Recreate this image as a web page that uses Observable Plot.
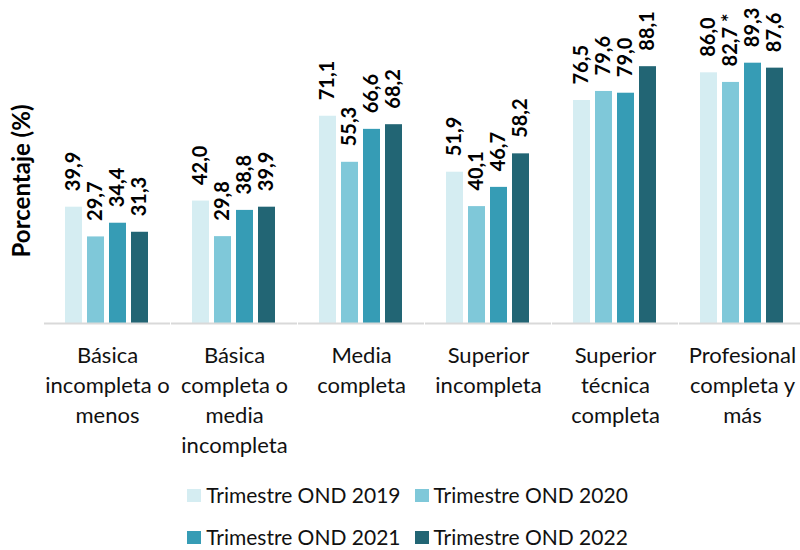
<!DOCTYPE html>
<html><head><meta charset="utf-8">
<script src="https://cdn.jsdelivr.net/npm/d3@7"></script>
<script src="https://cdn.jsdelivr.net/npm/@observablehq/plot@0.6"></script>
<style>
body{margin:0;background:#fff;font-family:Lato,sans-serif;color:#111;}
#chart{position:relative;width:800px;height:462px;}
.legend{width:800px;padding-left:15px;box-sizing:border-box;margin-top:12px;}
.row{display:flex;justify-content:center;align-items:center;height:42px;font-size:21px;line-height:24px;}
.item{display:flex;align-items:center;margin:0 7px;}
.sw{display:inline-block;width:14px;height:13px;margin-right:5px;}
</style></head><body>
<div id="chart"></div>
<script>
const categorias = ["Básica incompleta o menos", "Básica completa o media incompleta", "Media completa", "Superior incompleta", "Superior técnica completa", "Profesional completa y más"];
const etiquetas = ["Básica\nincompleta o\nmenos", "Básica\ncompleta o\nmedia\nincompleta", "Media\ncompleta", "Superior\nincompleta", "Superior\ntécnica\ncompleta", "Profesional\ncompleta y\nmás"];
const series = ["Trimestre OND 2019", "Trimestre OND 2020", "Trimestre OND 2021", "Trimestre OND 2022"];
const colores = ["#d5edf2", "#7fc8d9", "#369cb5", "#226574"];
const v2019 = [39.9, 42.0, 71.1, 51.9, 76.5, 86.0];
const v2020 = [29.7, 29.8, 55.3, 40.1, 79.6, 82.7];
const v2021 = [34.4, 38.8, 66.6, 46.7, 79.0, 89.3];
const v2022 = [31.3, 39.9, 68.2, 58.2, 88.1, 87.6];
const notas2019 = ["", "", "", "", "", ""];
const notas2020 = ["", "", "", "", "", " *"];
const notas2021 = ["", "", "", "", "", ""];
const notas2022 = ["", "", "", "", "", ""];
const tituloY = "Porcentaje (%)";

const valores = [v2019, v2020, v2021, v2022];
const notas = [notas2019, notas2020, notas2021, notas2022];
const datos = series.flatMap((s, i) => categorias.map((c, j) => ({cat: c, serie: s, valor: valores[i][j], nota: notas[i][j]})));
const fmt = d => d.toFixed(1).replace(".", ",");

const plot = Plot.plot({
  width: 800, height: 462,
  marginLeft: 40, marginRight: 5, marginTop: 31.5, marginBottom: 139,
  style: {fontFamily: "Lato, sans-serif", background: "#fff", color: "#111"},
  fx: {domain: categorias, paddingInner: 0.32, paddingOuter: 0.111, align: 0.7},
  x: {domain: series, axis: null, paddingInner: 0.22, paddingOuter: 0},
  y: {domain: [0, 100], axis: null},
  color: {domain: series, range: colores},
  marks: [
    Plot.barY(datos, {fx: "cat", x: "serie", y: "valor", fill: "serie"}),
    Plot.ruleY([0], {stroke: "#d9d9d9", strokeWidth: 2, insetLeft: -20, insetRight: -20}),
    Plot.text(datos, {fx: "cat", x: "serie", y: "valor", text: d => fmt(d.valor) + d.nota, rotate: -90, textAnchor: "start", dy: -16, fontSize: 20, fontWeight: "bold", fill: "#000"}),
    Plot.axisFx({anchor: "bottom", tickSize: 0, tickPadding: 18, tickFormat: d => etiquetas[categorias.indexOf(d)], fontSize: 22, lineHeight: 30/22, label: null})
  ]
});
d3.select(plot).append("text")
  .attr("transform", "translate(22,181) rotate(-90)")
  .attr("text-anchor", "middle").attr("dy", "0.35em")
  .attr("font-size", 24).attr("font-weight", "bold").attr("fill", "#000")
  .text(tituloY);
document.getElementById("chart").appendChild(plot);

const legend = d3.select("body").append("div").attr("class", "legend");
[[0, 1], [2, 3]].forEach(fila => {
  const row = legend.append("div").attr("class", "row");
  fila.forEach(i => {
    const it = row.append("span").attr("class", "item");
    it.append("span").attr("class", "sw").style("background", colores[i]);
    it.append("span").text(series[i]);
  });
});
</script>
</body></html>
